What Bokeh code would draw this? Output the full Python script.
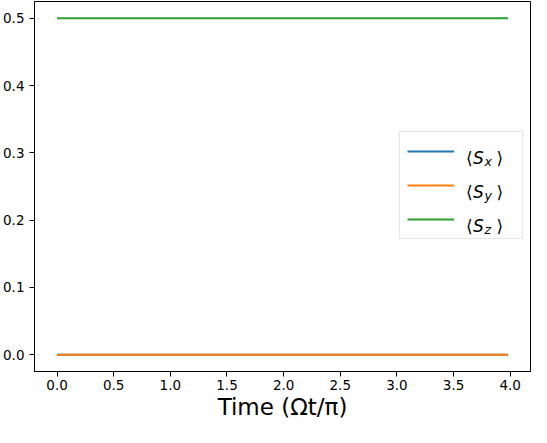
from bokeh.plotting import figure
from bokeh.models import (Range1d, FixedTicker, Legend, LegendItem, Label)
from bokeh.core.properties import value
from bokeh.embed import file_html
from bokeh.resources import INLINE

# ---- data ----
time = [0.0, 3.98]
sx = [0.0, 0.0]
sy = [0.0, 0.0]
sz = [0.5, 0.5]
series_names = ["x", "y", "z"]
series_colors = ["#1f77b4", "#ff7f0e", "#2ca02c"]

x_ticks = [0.0, 0.5, 1.0, 1.5, 2.0, 2.5, 3.0, 3.5, 4.0]
x_tick_labels = ["0.0", "0.5", "1.0", "1.5", "2.0", "2.5", "3.0", "3.5", "4.0"]
y_ticks = [0.0, 0.1, 0.2, 0.3, 0.4, 0.5]
y_tick_labels = ["0.0", "0.1", "0.2", "0.3", "0.4", "0.5"]
x_label = "Time (Ωt/π)"

FONT = "DejaVu Sans"

p = figure(width=531, height=427, output_backend="svg", toolbar_location=None,
           x_range=Range1d(-0.199, 4.179), y_range=Range1d(-0.025, 0.525),
           min_border_left=33, min_border_right=1, min_border_top=1,
           min_border_bottom=56)
p.background_fill_color = "white"
p.border_fill_color = "white"
p.outline_line_color = "black"
p.outline_line_width = 1
p.xgrid.visible = False
p.ygrid.visible = False

for ax in (p.xaxis[0], p.yaxis[0]):
    ax.axis_line_color = "black"
    ax.axis_line_width = 1
    ax.major_tick_in = 0
    ax.major_tick_out = 5
    ax.major_tick_line_color = "black"
    ax.major_tick_line_width = 1
    ax.minor_tick_line_color = None
    ax.major_label_text_font = FONT
    ax.major_label_text_font_size = "13.5px"
    ax.major_label_text_color = "black"

p.xaxis[0].ticker = FixedTicker(ticks=x_ticks)
p.xaxis[0].major_label_overrides = {t: l for t, l in zip(x_ticks, x_tick_labels)}
p.xaxis[0].major_label_standoff = 3
p.xaxis[0].axis_label = x_label
p.xaxis[0].axis_label_text_font = FONT
p.xaxis[0].axis_label_text_font_size = "23px"
p.xaxis[0].axis_label_text_font_style = "normal"
p.xaxis[0].axis_label_text_color = "black"
p.xaxis[0].axis_label_standoff = 1

p.yaxis[0].ticker = FixedTicker(ticks=y_ticks)
p.yaxis[0].major_label_overrides = {t: l for t, l in zip(y_ticks, y_tick_labels)}
p.yaxis[0].major_label_standoff = 5

renderers = []
for ys, c in zip([sx, sy, sz], series_colors):
    r = p.line(time, ys, line_color=c, line_width=2)
    renderers.append(r)

# legend (glyphs from Bokeh, math-style labels overlaid as text)
PAD, GH, SP, GW = 7, 24, 10, 47
leg_x, leg_top = 365, 238.3   # frame coords (from frame bottom-left)
legend = Legend(items=[LegendItem(label=value(" "), renderers=[r]) for r in renderers],
                location=(leg_x, leg_top - (3 * GH + 2 * SP + 2 * PAD)),
                padding=PAD, spacing=SP, glyph_width=GW, glyph_height=GH,
                label_height=GH, label_width=56, label_standoff=5, margin=0,
                background_fill_color="white", background_fill_alpha=0.0,
                border_line_color="#cccccc", border_line_width=1,
                label_text_font=FONT, label_text_font_size="16px")
p.add_layout(legend)

line_end = leg_x + PAD + GW
for i, name in enumerate(series_names):
    center = leg_top - PAD - GH / 2 - i * (GH + SP)
    base = center - 6
    parts = [
        ("⟨", line_end + 12.5, base, "normal", "17px"),
        ("S", line_end + 19.5, base, "italic", "17px"),
        (name, line_end + 31, base - 3.4, "italic", "12.5px"),
        ("⟩", line_end + 43, base, "normal", "17px"),
    ]
    for txt, lx, ly, style, size in parts:
        p.add_layout(Label(x=lx, y=ly, x_units="screen", y_units="screen", text=txt,
                           text_font=FONT, text_font_style=style, text_font_size=size,
                           text_color="black", text_alpha=1.0, text_align="left",
                           text_baseline="alphabetic", level="overlay"))

open("out.html", "w").write(file_html(p, INLINE))
